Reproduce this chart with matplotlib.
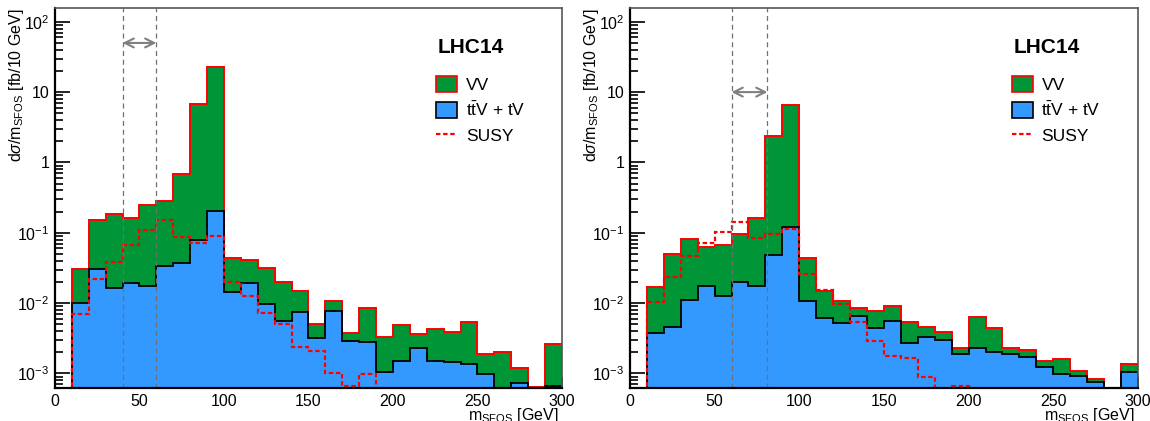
import matplotlib
matplotlib.use('Agg')
import matplotlib.pyplot as plt
from matplotlib.patches import Patch
from matplotlib.lines import Line2D
import numpy as np

plt.rcParams['font.family'] = ['Liberation Sans', 'DejaVu Sans']
plt.rcParams['mathtext.fontset'] = 'custom'
plt.rcParams['mathtext.rm'] = 'Liberation Sans'
plt.rcParams['mathtext.it'] = 'Liberation Sans:italic'
plt.rcParams['mathtext.bf'] = 'Liberation Sans:bold'

# bin edges in GeV (10 GeV bins)
edges = np.arange(0, 301, 10)

# left panel: cut window 40-60 GeV
vv_left = [0, 0.0205, 0.122, 0.170, 0.142, 0.229, 0.251, 0.642, 6.77, 22.8,
           0.0292, 0.022, 0.0223, 0.0142, 0.0075, 0.0018, 0.0031, 0.0009, 0.0056, 0.00225,
           0.0033, 0.0013, 0.0028, 0.00244, 0.00395, 0.00092, 0.0020, 0.00047, 0.00065, 0.00193]
ttv_left = [0, 0.0101, 0.0306, 0.0163, 0.0195, 0.0177, 0.034, 0.0377, 0.079, 0.207,
            0.0143, 0.019, 0.0096, 0.0056, 0.0075, 0.0032, 0.0077, 0.0029, 0.0028, 0.00105,
            0.0015, 0.0023, 0.0015, 0.00146, 0.00135, 0.00098, 0, 0.00073, 0, 0.00067]
susy_left = [0, 0.0069, 0.0218, 0.0385, 0.068, 0.108, 0.153, 0.0865, 0.071, 0.090,
             0.0198, 0.0128, 0.0072, 0.0050, 0.0024, 0.0021, 0.0010, 0.00067, 0.00098, 0,
             0, 0, 0, 0, 0, 0, 0, 0, 0, 0]
window_left = (40, 60)
arrow_y_left = 50

# right panel: cut window 60-81.2 GeV
vv_right = [0, 0.0131, 0.0449, 0.0699, 0.0459, 0.0542, 0.0757, 0.147, 2.30, 6.52,
            0.0328, 0.0089, 0.0056, 0.0018, 0.0033, 0.0036, 0.0027, 0.0013, 0.0009, 0.00042,
            0.0041, 0.0024, 0.00044, 0.00042, 0.00027, 0.00063, 0.00016, 0.00007, 0, 0.00029]
ttv_right = [0, 0.0037, 0.0046, 0.0111, 0.0177, 0.0128, 0.0198, 0.0177, 0.0484, 0.12,
             0.0107, 0.0061, 0.0052, 0.0066, 0.0044, 0.0056, 0.0027, 0.0033, 0.0030, 0.00188,
             0.0023, 0.0020, 0.00186, 0.00173, 0.00124, 0.00097, 0.00092, 0.00076, 0, 0.00105]
susy_right = [0, 0.0105, 0.0236, 0.047, 0.071, 0.104, 0.14, 0.0838, 0.0955, 0.114,
              0.026, 0.0154, 0.0097, 0.0054, 0.0029, 0.00176, 0.00164, 0.00089, 0, 0.00067,
              0, 0, 0, 0, 0, 0, 0, 0, 0, 0]
window_right = (60, 81.2)
arrow_y_right = 10

ytick_vals = [1e-3, 1e-2, 1e-1, 1, 10, 100]
ytick_labels = [r'10$^{-3}$', r'10$^{-2}$', r'10$^{-1}$', '1', '10', r'10$^{2}$']

GREEN = '#009638'
BLUE = '#3399ff'
FLOOR = 1e-6
YMIN, YMAX = 6.2e-4, 157


def draw_panel(ax, vv, ttv, susy, window, arrow_y):
    vv = np.array(vv)
    ttv = np.array(ttv)
    susy = np.array(susy)
    total = vv + ttv
    tot_p = np.where(total > 0, total, FLOOR)
    ttv_p = np.where(ttv > 0, ttv, FLOOR)
    susy_p = np.where(susy > 0, susy, FLOOR)

    ax.stairs(tot_p, edges, fill=True, baseline=FLOOR, color=GREEN, lw=0, zorder=1)
    ax.stairs(ttv_p, edges, fill=True, baseline=FLOOR, color=BLUE, lw=0, zorder=2)
    ax.stairs(tot_p, edges, baseline=FLOOR, color='red', lw=1.4, zorder=3)
    ax.stairs(ttv_p, edges, baseline=FLOOR, color='black', lw=1.3, zorder=4)
    ax.stairs(susy_p, edges, baseline=FLOOR, color='red', lw=1.6,
              linestyle=(0, (2, 1.2)), zorder=5)

    for xv in window:
        ax.axvline(xv, color='#707070', lw=0.9, linestyle=(0, (4, 3)), zorder=6)
    ax.annotate('', xy=(window[1], arrow_y), xytext=(window[0], arrow_y),
                arrowprops=dict(arrowstyle='<->', color='#808080', lw=1.5,
                                shrinkA=0, shrinkB=0, mutation_scale=16), zorder=7)

    ax.set_yscale('log')
    ax.set_xlim(0, 300)
    ax.set_ylim(YMIN, YMAX)
    ax.set_xticks([0, 50, 100, 150, 200, 250, 300])
    ax.set_xticks(np.arange(0, 301, 10), minor=True)
    ax.set_yticks(ytick_vals)
    ax.set_yticklabels(ytick_labels)
    ax.yaxis.set_minor_locator(matplotlib.ticker.LogLocator(base=10, subs=np.arange(2, 10)))
    ax.yaxis.set_minor_formatter(matplotlib.ticker.NullFormatter())
    ax.tick_params(axis='both', which='both', direction='in', top=False, right=False,
                   labelsize=11.5, width=1.2, color='black')
    ax.tick_params(axis='y', which='major', length=11, pad=4)
    ax.tick_params(axis='y', which='minor', length=5.5)
    ax.tick_params(axis='x', which='major', length=8, pad=4)
    ax.tick_params(axis='x', which='minor', length=4)

    for side in ['left', 'bottom']:
        ax.spines[side].set_linewidth(1.6)
        ax.spines[side].set_color('black')
    for side in ['top', 'right']:
        ax.spines[side].set_linewidth(1.2)
        ax.spines[side].set_color('#555555')
    for sp in ax.spines.values():
        sp.set_zorder(10)

    ax.set_ylabel(r'd$\sigma$/m$_{\mathrm{SFOS}}$ [fb/10 GeV]', fontsize=11.5, loc='top')
    ax.yaxis.set_label_coords(-0.058, 1.0)
    ax.set_xlabel(r'm$_{\mathrm{SFOS}}$ [GeV]', fontsize=11.5, loc='right')
    ax.xaxis.set_label_coords(0.993, -0.047)

    ax.text(0.755, 0.895, 'LHC14', transform=ax.transAxes, fontsize=15,
            fontweight='bold', ha='left', va='center')
    handles = [Patch(facecolor=GREEN, edgecolor='red', lw=1.2),
               Patch(facecolor=BLUE, edgecolor='black', lw=1.2),
               Line2D([], [], color='red', lw=1.6, linestyle=(0, (2, 1.2)))]
    labels = ['VV', r't$\bar{\mathrm{t}}$V + tV', 'SUSY']
    ax.legend(handles, labels, loc='upper left', bbox_to_anchor=(0.752, 0.82),
              frameon=False, fontsize=12.5, borderpad=0, borderaxespad=0,
              handlelength=1.2, handleheight=1.0, handletextpad=0.5, labelspacing=0.45)


fig = plt.figure(figsize=(11.5, 4.21), dpi=100)
ax1 = fig.add_axes([0.0478, 0.0784, 0.4409, 0.9026])
ax2 = fig.add_axes([0.5478, 0.0784, 0.4417, 0.9026])

draw_panel(ax1, vv_left, ttv_left, susy_left, window_left, arrow_y_left)
draw_panel(ax2, vv_right, ttv_right, susy_right, window_right, arrow_y_right)

fig.savefig('out.png', dpi=100)
